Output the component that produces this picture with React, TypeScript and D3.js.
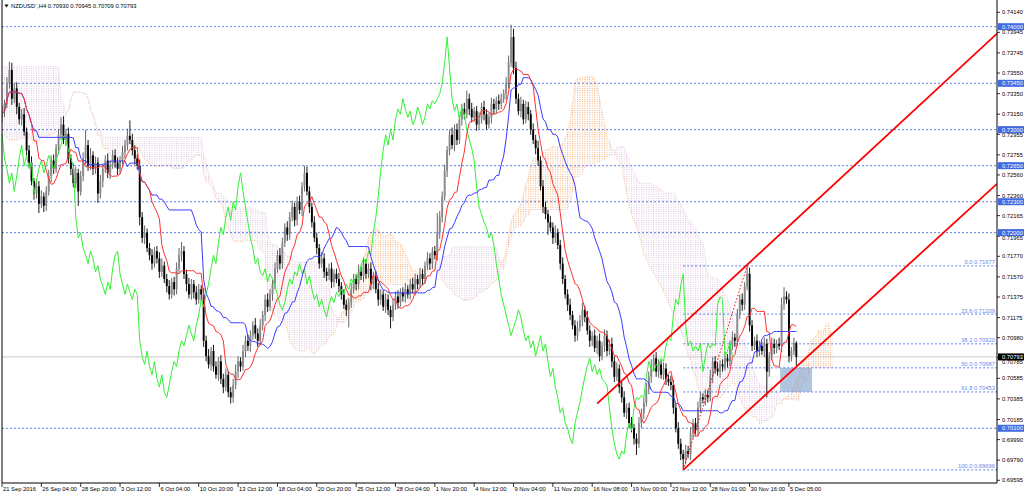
import React from "react";
import * as d3 from "d3";

// ---------------- DATA ----------------
const SYMBOL_TITLE = "NZDUSD`,H4  0.70930 0.70945 0.70709 0.70793";
const FIRST_OPEN = 0.7312;

// H4 closes, one per bar (bar 0 = 21 Sep 2016)
const CLOSES = [
  .7318,.7325,.7345,.7358,.7330,.7340,.7322,.7310,.7315,.7298,
  .7280,.7268,.7250,.7238,.7245,.7228,.7235,.7226,.7240,.7255,
  .7270,.7262,.7282,.7295,.7305,.7290,.7296,.7272,.7262,.7248,
  .7258,.7240,.7255,.7272,.7285,.7265,.7275,.7262,.7268,.7238,
  .7250,.7262,.7270,.7258,.7266,.7275,.7268,.7262,.7270,.7278,
  .7285,.7294,.7290,.7280,.7272,.7265,.7215,.7195,.7200,.7185,
  .7178,.7170,.7182,.7175,.7162,.7168,.7155,.7148,.7140,.7152,
  .7145,.7165,.7178,.7182,.7160,.7150,.7140,.7150,.7142,.7135,
  .7145,.7140,.7095,.7080,.7072,.7085,.7070,.7062,.7075,.7058,
  .7050,.7062,.7045,.7040,.7052,.7065,.7075,.7070,.7085,.7095,
  .7090,.7100,.7110,.7102,.7095,.7110,.7120,.7135,.7128,.7140,
  .7150,.7165,.7178,.7170,.7190,.7205,.7198,.7215,.7225,.7212,
  .7230,.7222,.7245,.7258,.7240,.7225,.7210,.7195,.7185,.7170,
  .7175,.7162,.7158,.7165,.7152,.7160,.7155,.7148,.7140,.7130,
  .7125,.7132,.7145,.7155,.7150,.7162,.7158,.7170,.7160,.7165,
  .7150,.7158,.7145,.7135,.7140,.7128,.7135,.7125,.7118,.7130,
  .7138,.7132,.7142,.7138,.7145,.7140,.7150,.7145,.7155,.7150,
  .7160,.7155,.7168,.7175,.7170,.7182,.7178,.7200,.7215,.7235,
  .7260,.7280,.7295,.7285,.7300,.7290,.7310,.7320,.7315,.7330,
  .7320,.7312,.7318,.7305,.7310,.7322,.7315,.7305,.7312,.7325,
  .7320,.7328,.7325,.7330,.7335,.7345,.7365,.7390,.7360,.7330,
  .7318,.7325,.7310,.7322,.7315,.7300,.7290,.7282,.7270,.7245,
  .7225,.7218,.7210,.7205,.7195,.7200,.7188,.7170,.7155,.7140,
  .7130,.7120,.7110,.7100,.7108,.7115,.7125,.7118,.7105,.7095,
  .7100,.7088,.7095,.7080,.7090,.7100,.7085,.7092,.7075,.7060,
  .7068,.7050,.7040,.7025,.7030,.7015,.7010,.7000,.6995,.7015,
  .7025,.7035,.7048,.7060,.7070,.7078,.7065,.7072,.7062,.7068,
  .7058,.7055,.7052,.7030,.7010,.6995,.6985,.6980,.6988,.6985,
  .7005,.7015,.7008,.7030,.7040,.7038,.7042,.7040,.7060,.7075,
  .7068,.7065,.7072,.7070,.7078,.7075,.7090,.7098,.7095,.7120,
  .7135,.7130,.7148,.7160,.7110,.7090,.7095,.7085,.7090,.7085,
  .7092,.7065,.7080,.7092,.7088,.7092,.7090,.7130,.7138,.7135,
  .7080,.7085,.7093,.70793,
];

// upper wick above the body, in pips
const UPPER_WICK = [
  5,4,6,8,7,5,6,4,5,6, 4,5,6,3,7,5,6,4,5,6, 5,6,4,5,7,8,5,6,4,5, 6,4,5,6,15,5,7,4,6,5,
  6,4,5,7,4,5,6,5,4,6, 5,7,15,6,5,4,6,5,7,4, 5,6,4,5,6,7,4,5,6,4, 5,6,7,9,5,4,6,5,4,6,
  5,4,6,5,7,4,6,5,4,6, 5,6,4,5,6,7,5,4,6,5, 6,5,4,7,5,6,4,5,6,5, 4,6,5,7,5,4,6,5,6,4,
  5,6,4,7,6,5,4,6,5,4, 6,5,4,5,6,4,5,6,4,5, 5,4,6,5,4,7,5,6,4,5, 6,4,5,6,5,4,6,5,4,6,
  5,6,4,5,6,4,5,6,5,4, 6,5,4,6,5,4,5,19,6,5, 6,4,5,7,5,6,4,5,6,8, 5,6,4,5,7,4,6,5,4,6,
  5,4,6,5,4,6,7,12,8,6, 5,7,4,6,5,4,6,5,7,4, 6,5,4,6,5,7,4,5,6,4, 5,6,4,5,6,5,7,4,6,5,
  4,6,5,7,4,6,5,4,6,5, 6,4,5,6,4,5,6,4,5,6, 4,5,6,5,7,4,6,5,4,6, 5,4,6,5,4,6,5,4,6,5,
  6,4,5,6,5,4,6,5,7,4, 5,6,4,5,6,4,5,6,4,6, 5,6,4,8,6,5,4,6,5,4, 6,5,4,6,5,4,6,7,9,5,
  6,4,5,1.5,
];

// lower wick below the body, in pips
const LOWER_WICK = [
  5,6,4,5,6,4,7,5,6,4, 6,5,4,6,5,9,4,6,5,4, 6,5,4,6,5,4,6,5,6,4, 5,14,4,5,6,5,4,6,5,9,
  5,6,4,5,6,4,5,6,5,4, 6,5,4,5,6,4,8,5,6,4, 5,6,4,5,6,5,4,6,5,4, 6,5,4,6,5,7,4,5,6,5,
  4,6,6,5,4,6,5,4,6,5, 6,4,5,6,5,4,6,5,4,6, 5,6,4,5,6,4,5,6,5,4, 6,5,4,6,5,4,6,5,4,6,
  5,4,6,5,4,6,5,4,6,5, 4,6,5,4,6,5,4,6,5,4, 6,17,5,4,6,5,4,6,5,4, 6,5,4,6,5,4,6,5,11,4,
  5,6,4,5,6,4,5,4,6,5, 4,6,5,4,6,5,4,5,6,5, 4,6,5,4,6,5,4,6,5,4, 6,5,4,6,5,4,6,5,4,6,
  5,4,6,5,4,6,5,4,6,5, 4,6,5,4,6,5,4,6,5,4, 6,5,12,4,6,5,4,6,5,4, 6,5,4,6,5,4,6,5,4,6,
  5,4,6,5,4,6,5,4,6,5, 4,6,5,4,6,5,4,6,11,4, 5,6,4,5,6,4,5,6,4,5, 6,4,5,6,4,5,6,10,5,4,
  6,5,4,6,5,4,6,5,4,6, 5,4,6,5,4,6,5,4,6,5, 4,6,5,4,6,5,4,6,5,4, 6,25,5,4,6,5,4,6,5,4,
  6,5,4,8.4,
];

// Ichimoku cloud for the first 26 visible bars (computed from history before the window)
const LEAD_SPAN_A = [
  .7296,.7294,.7292,.7290,.7290,.7290,.7290,.7291,.7292,.7292,.7292,.7292,.7290,
  .7290,.7290,.7290,.7292,.7294,.7294,.7294,.7295,.7296,.7298,.7300,.7302,.7305,
];
const LEAD_SPAN_B = [
  .7361,.7361,.7361,.7361,.7361,.7361,.7361,.7361,.7361,.7361,.7361,.7361,.7361,
  .7361,.7361,.7361,.7361,.7361,.7361,.7361,.7361,.7361,.7361,.7361,.7330,.7325,
];
const TENKAN_PERIOD = 9;
const KIJUN_PERIOD = 26;
const SENKOU_B_PERIOD = 52;
const CLOUD_BARS_AHEAD = 15; // how far the cloud is visible past the last candle

const TIME_LABELS = [
  "21 Sep 2016","26 Sep 04:00","28 Sep 20:00","3 Oct 12:00","6 Oct 04:00","10 Oct 20:00",
  "13 Oct 12:00","18 Oct 04:00","20 Oct 20:00","25 Oct 12:00","28 Oct 04:00","1 Nov 20:00",
  "4 Nov 12:00","9 Nov 04:00","11 Nov 20:00","16 Nov 08:00","19 Nov 00:00","23 Nov 12:00",
  "28 Nov 01:00","30 Nov 16:00","5 Dec 05:00",
];
const TIME_LABEL_BARS = [0,16,32,48,64,80,96,112,128,144,160,176,192,208,224,240,256,272,288,304,320];

const PRICE_TICKS = [
  0.74140,0.73945,0.73745,0.73550,0.73350,0.73150,0.72955,0.72755,0.72560,0.72360,0.72165,0.71965,
  0.71770,0.71570,0.71375,0.71175,0.70980,0.70785,0.70585,0.70385,0.70185,0.69990,0.69790,0.69595,
];
const LEVELS = [0.74000,0.73450,0.73000,0.72650,0.72300,0.72000,0.70100];
const CURRENT_PRICE = 0.70793;

const FIB_RATIOS = ["0.0","23.6","38.2","50.0","61.8","100.0"];
const FIB_PRICES = [0.71677,0.71209,0.70920,0.70687,0.70453,0.69696];
const FIB_START_BAR = 277;
const FIB_TREND = [[277, 0.69696],[303, 0.71677]];

const UPPER_CHANNEL = [[242, 0.70340],[303, 0.71688]];
const LOWER_CHANNEL = [[277, 0.69696],[311, 0.70436]];

const ZONE_BARS = [316.4, 329.4];
const ZONE_PRICES = [0.70687, 0.70453];

// ---------------- LAYOUT ----------------
const W = 1024, H = 495;
const PL = 2, PR = 997, PT = 0, PB = 483;
const BARS_IN_VIEW = 404.6;
const FONT = "'Liberation Sans', Arial, sans-serif";

const x = d3.scaleLinear().domain([0, BARS_IN_VIEW]).range([PL, PR]);
const y = d3.scaleLinear().domain([0.695686, 0.74259]).range([PB, PT]);
const barStep = x(1) - x(0);

function fmt(v: number) { return v.toFixed(5); }

export default function App() {
  const n = CLOSES.length;
  const opens = CLOSES.map((c, i) => (i === 0 ? FIRST_OPEN : CLOSES[i - 1]));
  const highs = CLOSES.map((c, i) => Math.max(opens[i], c) + UPPER_WICK[i] / 10000);
  const lows = CLOSES.map((c, i) => Math.min(opens[i], c) - LOWER_WICK[i] / 10000);

  const mid = (i: number, p: number) => {
    const s = Math.max(0, i - p + 1);
    return (d3.max(highs.slice(s, i + 1))! + d3.min(lows.slice(s, i + 1))!) / 2;
  };
  const tenkan = d3.range(n).map(i => mid(i, TENKAN_PERIOD));
  const kijun = d3.range(n).map(i => mid(i, KIJUN_PERIOD));
  const spanA: number[] = [];
  const spanB: number[] = [];
  for (let j = 0; j < n + CLOUD_BARS_AHEAD; j++) {
    if (j < KIJUN_PERIOD) {
      spanA.push(LEAD_SPAN_A[j]);
      spanB.push(LEAD_SPAN_B[j]);
    } else {
      const s = j - KIJUN_PERIOD;
      spanA.push((tenkan[s] + kijun[s]) / 2);
      spanB.push(mid(s, SENKOU_B_PERIOD));
    }
  }
  const cloudIdx = d3.range(spanA.length);
  const orangeArea = d3.area<number>()
    .x(j => x(j)).y0(j => y(spanB[j])).y1(j => y(Math.max(spanA[j], spanB[j])))(cloudIdx) || "";
  const pinkArea = d3.area<number>()
    .x(j => x(j)).y0(j => y(spanA[j])).y1(j => y(Math.max(spanA[j], spanB[j])))(cloudIdx) || "";
  const spanALine = d3.line<number>().x(j => x(j)).y(j => y(spanA[j]))(cloudIdx) || "";
  const spanBLine = d3.line<number>().x(j => x(j)).y(j => y(spanB[j]))(cloudIdx) || "";

  const lineOf = (arr: number[]) =>
    d3.line<number>().x((_, i) => x(i)).y(v => y(v))(arr) || "";
  const chikou = CLOSES.slice(KIJUN_PERIOD);

  const ray = (pts: number[][]) => {
    const [[b0, p0], [b1, p1]] = pts;
    const slope = (p1 - p0) / (b1 - b0);
    const bEnd = BARS_IN_VIEW;
    return { x1: x(b0), y1: y(p0), x2: x(bEnd), y2: y(p0 + slope * (bEnd - b0)) };
  };
  const up = ray(UPPER_CHANNEL);
  const lo = ray(LOWER_CHANNEL);

  const bodyW = 1.9;
  const levelColor = "#4d72e6";
  const boxH = 7;
  const boxed = [...LEVELS, CURRENT_PRICE];
  // nudge an axis label away from a highlighted box it would collide with
  const tickLabelY = (v: number) => {
    let ty = y(v);
    for (const b of boxed) {
      const d = ty - y(b);
      if (Math.abs(d) < 5.5) ty = y(b) + (d >= 0 ? 5.5 : -5.5);
    }
    return ty;
  };

  return (
    <div style={{ position: "fixed", left: 0, top: 0, width: W, height: H, background: "#fff" }}>
      <svg width={W} height={H} style={{ display: "block" }} fontFamily={FONT}>
        <defs>
          <pattern id="dotOrange" patternUnits="userSpaceOnUse" x={x(0) - 0.5} y={0} width={barStep} height={2.2}>
            <rect x={0} y={0} width={1} height={1} fill="#f5ad72" />
          </pattern>
          <pattern id="dotPink" patternUnits="userSpaceOnUse" x={x(0) - 0.5} y={0} width={barStep} height={2.2}>
            <rect x={0} y={0} width={1} height={1} fill="#dcc2dc" />
          </pattern>
          <clipPath id="plot">
            <rect x={PL} y={PT} width={PR - PL} height={PB - PT} />
          </clipPath>
        </defs>
        <rect x={0} y={0} width={W} height={H} fill="#fff" />

        <g clipPath="url(#plot)">
          {/* cloud */}
          <path d={orangeArea} fill="url(#dotOrange)" />
          <path d={pinkArea} fill="url(#dotPink)" />
          <path d={spanALine} fill="none" stroke="#f5ad72" strokeWidth={0.8} strokeDasharray="1,1.4" />
          <path d={spanBLine} fill="none" stroke="#dcc2dc" strokeWidth={0.8} strokeDasharray="1,1.4" />

          {/* horizontal levels */}
          {LEVELS.map(v => (
            <line key={v} x1={PL} x2={PR} y1={y(v)} y2={y(v)} stroke={levelColor} strokeWidth={0.9} strokeDasharray="2,2" />
          ))}
          {FIB_PRICES.map(v => (
            <line key={"f" + v} x1={x(FIB_START_BAR)} x2={PR} y1={y(v)} y2={y(v)} stroke={levelColor} strokeWidth={0.9} strokeDasharray="2,2" />
          ))}
          <line x1={PL} x2={PR} y1={y(CURRENT_PRICE)} y2={y(CURRENT_PRICE)} stroke="#c8c8c8" strokeWidth={1} />

          {/* zone */}
          <rect x={x(ZONE_BARS[0])} width={x(ZONE_BARS[1]) - x(ZONE_BARS[0])}
            y={y(ZONE_PRICES[0])} height={y(ZONE_PRICES[1]) - y(ZONE_PRICES[0])}
            fill="#7f9fcc" fillOpacity={0.6} />

          {/* candles */}
          {CLOSES.map((c, i) => {
            const o = opens[i];
            const bull = c >= o;
            const cx = x(i);
            const top = y(Math.max(o, c));
            const h = Math.max(0.8, Math.abs(y(o) - y(c)));
            return (
              <g key={i}>
                <line x1={cx} x2={cx} y1={y(highs[i])} y2={y(lows[i])} stroke={bull ? "#555" : "#000"} strokeWidth={0.9} />
                <rect x={cx - bodyW / 2} y={top} width={bodyW} height={h} fill={bull ? "#8a8a8a" : "#000"} />
              </g>
            );
          })}

          {/* ichimoku lines */}
          <path d={lineOf(chikou)} fill="none" stroke="#33f033" strokeWidth={1} />
          <path d={lineOf(kijun)} fill="none" stroke="#3a3aff" strokeWidth={1} />
          <path d={lineOf(tenkan)} fill="none" stroke="#ff3030" strokeWidth={1} />

          {/* fib trend */}
          <line x1={x(FIB_TREND[0][0])} y1={y(FIB_TREND[0][1])} x2={x(FIB_TREND[1][0])} y2={y(FIB_TREND[1][1])}
            stroke="#ff0000" strokeWidth={1} strokeDasharray="1.5,2" />

          {/* channel */}
          <line {...up} stroke="#ff0000" strokeWidth={1.8} />
          <line {...lo} stroke="#ff0000" strokeWidth={1.8} />

          {/* fib labels */}
          {FIB_PRICES.map((v, k) => (
            <text key={"fl" + v} x={PR - 2} y={y(v) - 1.5} textAnchor="end" fontSize={5.8} fill="#6c88e8">
              {FIB_RATIOS[k] + " " + fmt(v)}
            </text>
          ))}
        </g>

        {/* frame */}
        <line x1={PL} x2={PL} y1={PT} y2={PB} stroke="#000" strokeWidth={1} />
        <line x1={PL} x2={PR} y1={PB} y2={PB} stroke="#000" strokeWidth={1} />
        <line x1={PR} x2={PR} y1={PT} y2={PB} stroke="#000" strokeWidth={1} />

        {/* right axis */}
        {PRICE_TICKS.map(v => (
          <g key={"t" + v}>
            <line x1={PR} x2={PR + 3} y1={y(v)} y2={y(v)} stroke="#000" strokeWidth={0.8} />
            <text x={PR + 5} y={tickLabelY(v) + 2} fontSize={5.8} fill="#000">{fmt(v)}</text>
          </g>
        ))}
        {LEVELS.map(v => (
          <g key={"lb" + v}>
            <rect x={PR + 1} y={y(v) - boxH / 2} width={26} height={boxH} fill="#4169e1" />
            <text x={PR + 5} y={y(v) + 2} fontSize={5.8} fill="#fff">{fmt(v)}</text>
          </g>
        ))}
        <rect x={PR + 1} y={y(CURRENT_PRICE) - boxH / 2} width={26} height={boxH} fill="#000" />
        <text x={PR + 5} y={y(CURRENT_PRICE) + 2} fontSize={5.8} fill="#fff">{fmt(CURRENT_PRICE)}</text>

        {/* bottom axis */}
        {TIME_LABELS.map((t, k) => {
          const tx = x(TIME_LABEL_BARS[k]);
          return (
            <g key={t}>
              <line x1={tx} x2={tx} y1={PB} y2={PB + 4} stroke="#000" strokeWidth={0.8} />
              <text x={tx + 1} y={PB + 8.3} fontSize={5.8} fill="#000">{t}</text>
            </g>
          );
        })}

        {/* title */}
        <path d="M4.5,4.5 L8.5,4.5 L6.5,7.5 Z" fill="#000" />
        <text x={11} y={8} fontSize={5.8} fill="#000">{SYMBOL_TITLE}</text>
      </svg>
    </div>
  );
}
